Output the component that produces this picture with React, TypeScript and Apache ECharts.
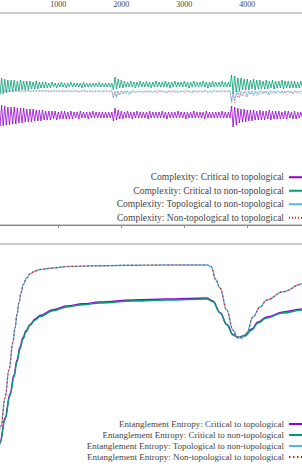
import React, { useEffect, useRef } from "react";
import * as echarts from "echarts";

// ---------- Top panel: complexity, sampled every 25 time steps ----------
const COMPLEXITY_STEP = 25;
const COMPLEXITY_COUNT = 201;

// Oscillating series: local maxima (even samples) and local minima (odd samples)
const CX_CRIT_TOPO_PEAKS = [
  1.20, 1.19, 1.20, 1.19, 1.18, 1.18,
  1.18, 1.17, 1.17, 1.17, 1.16,
  1.16, 1.16, 1.15, 1.15, 1.15,
  1.14, 1.14, 1.14, 1.14, 1.13, 1.14, 1.14, 1.13, 1.14, 1.13, 1.13, 1.14, 1.13, 1.13, 1.13, 1.14, 1.13, 1.13, 1.13, 1.13, 1.13,
  1.13, 1.17, 1.15, 1.14,
  1.13, 1.14, 1.13, 1.13, 1.14, 1.13, 1.13, 1.13, 1.14, 1.13,
  1.13, 1.13, 1.14, 1.13, 1.13, 1.13, 1.13, 1.14, 1.13, 1.13,
  1.13, 1.13, 1.14, 1.13, 1.13, 1.13, 1.14, 1.13, 1.13, 1.13,
  1.13, 1.14, 1.13, 1.13,
  1.19, 1.18, 1.17, 1.16, 1.16, 1.15,
  1.15, 1.15, 1.14, 1.15, 1.14, 1.14, 1.15, 1.14, 1.14, 1.14,
  1.13, 1.14, 1.14, 1.13, 1.14, 1.13, 1.13, 1.14, 1.13, 1.13,
];
const CX_CRIT_TOPO_TROUGHS = [
  0.98, 0.99, 0.99, 1.00, 1.00, 1.01,
  1.01, 1.02, 1.02, 1.03, 1.03,
  1.03, 1.04, 1.04, 1.04, 1.05,
  1.05, 1.05, 1.06, 1.05, 1.06, 1.06, 1.06, 1.06, 1.06, 1.07, 1.06, 1.07, 1.07, 1.06, 1.07, 1.07, 1.07, 1.07, 1.07, 1.07, 1.07,
  1.04, 1.05, 1.06, 1.06,
  1.07, 1.07, 1.06, 1.07, 1.07, 1.07, 1.07, 1.06, 1.07, 1.07,
  1.07, 1.07, 1.07, 1.06, 1.07, 1.07, 1.07, 1.07, 1.07, 1.06,
  1.07, 1.07, 1.07, 1.07, 1.07, 1.06, 1.07, 1.07, 1.07, 1.07,
  1.07, 1.07, 1.07, 1.07,
  0.98, 1.00, 1.02, 1.03, 1.03, 1.04,
  1.04, 1.05, 1.05, 1.05, 1.05, 1.06, 1.05, 1.06, 1.06, 1.06,
  1.06, 1.06, 1.07, 1.06, 1.06, 1.07, 1.07, 1.06, 1.07,
];

const CX_CRIT_NONTOPO_PEAKS = [
  1.47, 1.46, 1.47, 1.46, 1.45, 1.45,
  1.45, 1.44, 1.45, 1.44, 1.44,
  1.44, 1.43, 1.44, 1.43, 1.43,
  1.43, 1.42, 1.43, 1.42, 1.42, 1.43, 1.42, 1.42, 1.43, 1.42, 1.42, 1.42, 1.43, 1.42, 1.42, 1.42, 1.42, 1.43, 1.42, 1.42, 1.42,
  1.42, 1.48, 1.46, 1.45,
  1.44, 1.43, 1.44, 1.43, 1.43, 1.44, 1.43, 1.44, 1.43, 1.43,
  1.44, 1.43, 1.43, 1.44, 1.43, 1.43, 1.44, 1.43, 1.43, 1.44,
  1.43, 1.43, 1.44, 1.43, 1.43, 1.44, 1.43, 1.43, 1.44, 1.43,
  1.43, 1.44, 1.43, 1.43,
  1.50, 1.49, 1.47, 1.47, 1.46, 1.46,
  1.45, 1.46, 1.45, 1.45, 1.44, 1.45, 1.44, 1.45, 1.44, 1.44,
  1.45, 1.44, 1.44, 1.44, 1.44, 1.43, 1.44, 1.44, 1.43, 1.44,
];
const CX_CRIT_NONTOPO_TROUGHS = [
  1.30, 1.31, 1.31, 1.32, 1.33, 1.33,
  1.34, 1.34, 1.35, 1.35, 1.35,
  1.36, 1.36, 1.36, 1.37, 1.37,
  1.37, 1.37, 1.38, 1.37, 1.38, 1.38, 1.37, 1.38, 1.38, 1.38, 1.38, 1.37, 1.38, 1.38, 1.38, 1.38, 1.38, 1.38, 1.38, 1.38, 1.38,
  1.35, 1.36, 1.37, 1.37,
  1.38, 1.38, 1.38, 1.37, 1.38, 1.38, 1.38, 1.38, 1.37, 1.38,
  1.38, 1.38, 1.38, 1.38, 1.37, 1.38, 1.38, 1.38, 1.38, 1.38,
  1.37, 1.38, 1.38, 1.38, 1.38, 1.38, 1.37, 1.38, 1.38, 1.38,
  1.38, 1.38, 1.38, 1.38,
  1.32, 1.33, 1.34, 1.35, 1.35, 1.35,
  1.36, 1.35, 1.36, 1.36, 1.36, 1.36, 1.37, 1.36, 1.37, 1.37,
  1.36, 1.37, 1.37, 1.37, 1.37, 1.37, 1.37, 1.37, 1.37,
];

const CX_TOPO_NONTOPO = [
  1.34, 1.34, 1.34, 1.34, 1.33, 1.34, 1.34, 1.34, 1.34, 1.34,
  1.34, 1.34, 1.34, 1.34, 1.34, 1.34, 1.34, 1.33, 1.34, 1.34,
  1.34, 1.34, 1.34, 1.34, 1.34, 1.34, 1.34, 1.34, 1.34, 1.34,
  1.34, 1.34, 1.34, 1.34, 1.33, 1.34, 1.34, 1.34, 1.34, 1.34,
  1.34, 1.34, 1.33, 1.34, 1.34, 1.34, 1.34, 1.34, 1.33, 1.34,
  1.34, 1.34, 1.34, 1.33, 1.34, 1.34, 1.34, 1.34, 1.34, 1.33,
  1.34, 1.34, 1.34, 1.33, 1.34, 1.34, 1.34, 1.33, 1.34, 1.34,
  1.34, 1.33, 1.34, 1.34, 1.34,
  1.27, 1.34, 1.28, 1.34, 1.30,
  1.34, 1.31, 1.34, 1.32, 1.34, 1.30, 1.34, 1.33, 1.34, 1.32,
  1.34, 1.34, 1.33, 1.34, 1.32, 1.34, 1.34, 1.33, 1.34, 1.34,
  1.32, 1.34, 1.34, 1.33, 1.34, 1.34, 1.34, 1.33, 1.34, 1.32,
  1.34, 1.34, 1.33, 1.34, 1.34, 1.34, 1.32, 1.34, 1.34, 1.33,
  1.34, 1.34, 1.34, 1.33, 1.34, 1.32, 1.34, 1.34, 1.34, 1.33,
  1.34, 1.34, 1.33, 1.34, 1.34, 1.32, 1.34, 1.34, 1.33, 1.34,
  1.34, 1.34, 1.33, 1.34, 1.34, 1.34, 1.33, 1.34, 1.34, 1.34,
  1.22, 1.34, 1.25, 1.30, 1.34, 1.27, 1.34, 1.29, 1.33, 1.34,
  1.28, 1.34, 1.31, 1.34, 1.29, 1.34, 1.33, 1.30, 1.34, 1.34,
  1.31, 1.34, 1.32, 1.34, 1.30, 1.34, 1.33, 1.34, 1.31, 1.34,
  1.34, 1.32, 1.34, 1.31, 1.34, 1.33, 1.34, 1.32, 1.34, 1.31,
  1.34, 1.33, 1.34, 1.32, 1.34, 1.34, 1.31, 1.34, 1.33, 1.34,
  1.32,
];

const CX_NONTOPO_TOPO = [
  1.34, 1.34, 1.33, 1.34, 1.34, 1.34, 1.34, 1.34, 1.34, 1.34,
  1.34, 1.34, 1.34, 1.34, 1.34, 1.34, 1.34, 1.34, 1.34, 1.34,
  1.34, 1.34, 1.34, 1.33, 1.34, 1.34, 1.34, 1.34, 1.34, 1.34,
  1.34, 1.34, 1.34, 1.34, 1.34, 1.34, 1.33, 1.34, 1.34, 1.34,
  1.33, 1.34, 1.34, 1.34, 1.34, 1.33, 1.34, 1.34, 1.34, 1.34,
  1.33, 1.34, 1.34, 1.34, 1.33, 1.34, 1.34, 1.34, 1.33, 1.34,
  1.34, 1.33, 1.34, 1.34, 1.34, 1.33, 1.34, 1.34, 1.33, 1.34,
  1.34, 1.34, 1.33, 1.34, 1.34,
  1.28, 1.33, 1.27, 1.34, 1.30,
  1.34, 1.32, 1.34, 1.31, 1.34, 1.33, 1.31, 1.34, 1.34, 1.33,
  1.34, 1.32, 1.34, 1.34, 1.33, 1.34, 1.32, 1.34, 1.34, 1.33,
  1.34, 1.34, 1.32, 1.34, 1.34, 1.33, 1.34, 1.34, 1.32, 1.34,
  1.34, 1.33, 1.34, 1.34, 1.32, 1.34, 1.34, 1.33, 1.34, 1.34,
  1.32, 1.34, 1.34, 1.33, 1.34, 1.34, 1.33, 1.34, 1.32, 1.34,
  1.34, 1.33, 1.34, 1.34, 1.34, 1.33, 1.34, 1.32, 1.34, 1.34,
  1.33, 1.34, 1.34, 1.34, 1.33, 1.34, 1.34, 1.33, 1.34, 1.34,
  1.24, 1.33, 1.22, 1.34, 1.27, 1.34, 1.29, 1.31, 1.34, 1.28,
  1.34, 1.33, 1.30, 1.34, 1.31, 1.34, 1.29, 1.34, 1.33, 1.31,
  1.34, 1.32, 1.34, 1.30, 1.34, 1.33, 1.31, 1.34, 1.32, 1.34,
  1.33, 1.31, 1.34, 1.32, 1.34, 1.30, 1.34, 1.33, 1.34, 1.31,
  1.34, 1.32, 1.34, 1.33, 1.31, 1.34, 1.34, 1.32, 1.34, 1.33,
  1.34,
];

// ---------- Bottom panel: entanglement entropy ----------
const ENT_T_SOLID = [0, 75, 154, 233, 297, 344, 392, 440, 487, 551, 633, 710, 916, 1133, 1392, 1662, 2186, 2725, 3360, 3455, 3567, 3678, 3773, 3852, 3963, 4070, 4170, 4308, 4567, 4868, 5000];
const ENT_CRIT_TOPO = [0.39, 0.62, 0.86, 1.10, 1.29, 1.44, 1.57, 1.665, 1.732, 1.795, 1.85, 1.885, 1.943, 1.98, 2.002, 2.02, 2.04, 2.05, 2.06, 2.03, 1.915, 1.795, 1.695, 1.665, 1.685, 1.75, 1.82, 1.87, 1.92, 1.95, 1.965];
const ENT_CRIT_NONTOPO = [0.37, 0.60, 0.84, 1.08, 1.27, 1.42, 1.55, 1.65, 1.72, 1.785, 1.84, 1.875, 1.933, 1.97, 1.992, 2.01, 2.03, 2.04, 2.05, 2.023, 1.91, 1.79, 1.69, 1.663, 1.68, 1.74, 1.81, 1.86, 1.91, 1.94, 1.955];

const ENT_T_DASHED = [0, 90, 154, 217, 281, 313, 344, 376, 408, 444, 498, 551, 630, 710, 916, 1138, 1662, 2186, 2725, 3360, 3424, 3503, 3567, 3673, 3773, 3836, 3911, 3990, 4090, 4202, 4308, 4567, 4868, 5000];
const ENT_TOPO_NONTOPO = [0.38, 0.78, 1.06, 1.34, 1.62, 1.76, 1.895, 2.015, 2.11, 2.195, 2.26, 2.30, 2.33, 2.345, 2.36, 2.375, 2.383, 2.387, 2.39, 2.39, 2.375, 2.24, 2.16, 1.94, 1.74, 1.675, 1.66, 1.71, 1.87, 1.97, 2.04, 2.123, 2.20, 2.23];
const ENT_NONTOPO_TOPO = [0.38, 0.78, 1.06, 1.34, 1.62, 1.76, 1.895, 2.015, 2.11, 2.195, 2.26, 2.30, 2.33, 2.345, 2.36, 2.375, 2.383, 2.387, 2.39, 2.39, 2.375, 2.24, 2.16, 1.94, 1.74, 1.675, 1.66, 1.71, 1.87, 1.97, 2.04, 2.123, 2.20, 2.23];

const X_TICKS = [0, 1000, 2000, 3000, 4000, 5000];

const CX_NAMES = [
  "Complexity: Critical to topological",
  "Complexity: Critical to non-topological",
  "Complexity: Topological to non-topological",
  "Complexity: Non-topological to topological",
];
const ENT_NAMES = [
  "Entanglement Entropy: Critical to topological",
  "Entanglement Entropy: Critical to non-topological",
  "Entanglement Entropy: Topological to non-topological",
  "Entanglement Entropy: Non-topological to topological",
];

const PURPLE = "#9400d3";
const GREEN = "#009e73";
const BLUE = "#56b4e9";
const RED = "#e51e10";
const FONT = "Liberation Serif";

const cxX = Array.from({ length: COMPLEXITY_COUNT }, (_, i) => i * COMPLEXITY_STEP);
const interleave = (peaks: number[], troughs: number[]) =>
  cxX.map((_, i) => (i % 2 === 0 ? peaks[i / 2] : troughs[(i - 1) / 2]));
const zip = (xs: number[], ys: number[]) => ys.map((y, i) => [xs[i], y]);

export default function App() {
  const ref = useRef<HTMLDivElement>(null);
  useEffect(() => {
    if (!ref.current) return;
    const chart = echarts.init(ref.current, undefined, { renderer: "svg" });
    const legendBase = {
      orient: "vertical",
      right: -4,
      padding: 0,
      itemWidth: 16,
      itemHeight: 8,
      align: "right",
      selectedMode: false,
      itemStyle: { opacity: 0 },
    };
    const gridBase = { left: -4.7, right: -8.3, show: true, borderColor: "#999", borderWidth: 1, outerBoundsMode: "none", containLabel: false };
    chart.setOption({
      animation: false,
      backgroundColor: "#ffffff",
      grid: [
        { ...gridBase, top: 13, height: 212 },
        { ...gridBase, top: 244, height: 260 },
      ],
      xAxis: [
        {
          gridIndex: 0,
          type: "value",
          min: X_TICKS[0],
          max: X_TICKS[X_TICKS.length - 1],
          interval: 1000,
          position: "top",
          axisLine: { show: true, lineStyle: { color: "#888", width: 1 } },
          axisTick: { show: true, inside: true, length: 3, lineStyle: { color: "#888" } },
          axisLabel: {
            show: true, margin: 5, fontFamily: FONT, fontSize: 8, color: "#444",
            showMinLabel: false, showMaxLabel: false, formatter: (v: number) => String(v),
          },
          splitLine: { show: false },
        },
        {
          gridIndex: 1,
          type: "value",
          min: X_TICKS[0],
          max: X_TICKS[X_TICKS.length - 1],
          interval: 1000,
          axisLine: { show: false },
          axisTick: { show: false },
          axisLabel: { show: false },
          splitLine: { show: false },
        },
      ],
      yAxis: [
        { gridIndex: 0, type: "value", min: 0, max: 2.12, show: false, splitLine: { show: false } },
        { gridIndex: 1, type: "value", min: 0, max: 2.6, show: false, splitLine: { show: false } },
      ],
      legend: [
        {
          ...legendBase, data: CX_NAMES, top: 172.25, itemGap: 3.5,
          textStyle: { fontFamily: FONT, fontSize: 9.5, color: "#444", lineHeight: 9.5 },
        },
        {
          ...legendBase, data: ENT_NAMES, top: 419.5, itemGap: 2,
          textStyle: { fontFamily: FONT, fontSize: 9, color: "#444", lineHeight: 9 },
        },
      ],
      series: [
        {
          name: CX_NAMES[0], type: "line", xAxisIndex: 0, yAxisIndex: 0, symbol: "none",
          data: zip(cxX, interleave(CX_CRIT_TOPO_PEAKS, CX_CRIT_TOPO_TROUGHS)),
          lineStyle: { color: PURPLE, width: 0.8 }, itemStyle: { color: PURPLE },
        },
        {
          name: CX_NAMES[1], type: "line", xAxisIndex: 0, yAxisIndex: 0, symbol: "none",
          data: zip(cxX, interleave(CX_CRIT_NONTOPO_PEAKS, CX_CRIT_NONTOPO_TROUGHS)),
          lineStyle: { color: GREEN, width: 0.8 }, itemStyle: { color: GREEN },
        },
        {
          name: CX_NAMES[2], type: "line", xAxisIndex: 0, yAxisIndex: 0, symbol: "none",
          data: zip(cxX, CX_TOPO_NONTOPO), lineStyle: { color: BLUE, width: 0.6 }, itemStyle: { color: BLUE },
        },
        {
          name: CX_NAMES[3], type: "line", xAxisIndex: 0, yAxisIndex: 0, symbol: "none",
          data: zip(cxX, CX_NONTOPO_TOPO), lineStyle: { color: RED, width: 0.6, type: [1, 2] }, itemStyle: { color: RED },
        },
        {
          name: ENT_NAMES[0], type: "line", xAxisIndex: 1, yAxisIndex: 1, symbol: "none",
          smooth: 0.4, smoothMonotone: "x",
          data: zip(ENT_T_SOLID, ENT_CRIT_TOPO), lineStyle: { color: PURPLE, width: 1.4 }, itemStyle: { color: PURPLE },
        },
        {
          name: ENT_NAMES[1], type: "line", xAxisIndex: 1, yAxisIndex: 1, symbol: "none",
          smooth: 0.4, smoothMonotone: "x",
          data: zip(ENT_T_SOLID, ENT_CRIT_NONTOPO), lineStyle: { color: GREEN, width: 1.4 }, itemStyle: { color: GREEN },
        },
        {
          name: ENT_NAMES[2], type: "line", xAxisIndex: 1, yAxisIndex: 1, symbol: "none",
          smooth: 0.4, smoothMonotone: "x",
          data: zip(ENT_T_DASHED, ENT_TOPO_NONTOPO), lineStyle: { color: BLUE, width: 1.4 }, itemStyle: { color: BLUE },
        },
        {
          name: ENT_NAMES[3], type: "line", xAxisIndex: 1, yAxisIndex: 1, symbol: "none",
          smooth: 0.4, smoothMonotone: "x",
          data: zip(ENT_T_DASHED, ENT_NONTOPO_TOPO), lineStyle: { color: RED, width: 1.2, type: [1.5, 2.5] }, itemStyle: { color: RED },
        },
      ],
    });
    return () => chart.dispose();
  }, []);
  return (
    <div
      ref={ref}
      style={{ position: "fixed", left: 0, top: 0, width: 302, height: 464, background: "#fff" }}
    />
  );
}
